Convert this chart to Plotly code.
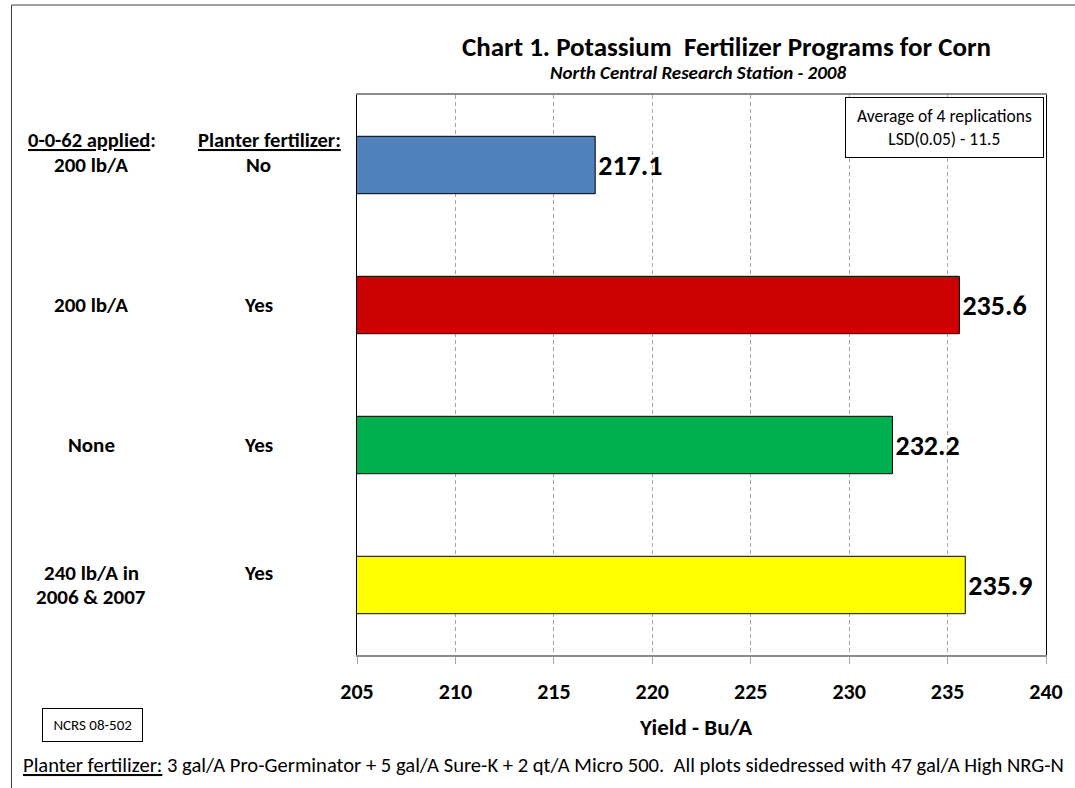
"""Chart 1: potassium fertilizer programs for corn (horizontal bars)."""
import plotly.graph_objects as go

# ---- data ---------------------------------------------------------------
applied = ["200 lb/A", "200 lb/A", "None", "240 lb/A in<br>2006 & 2007"]
planter = ["No", "Yes", "Yes", "Yes"]
yields = [217.1, 235.6, 232.2, 235.9]
bar_colors = ["#4F81BD", "#CC0000", "#00B050", "#FFFF00"]
x_ticks = [205, 210, 215, 220, 225, 230, 235, 240]

FONT = "Carlito, Calibri, Lato, sans-serif"

# plot area in pixels (matches the reference)
W, H = 1075, 788
L, R, T, B = 357, 20, 95, 133
PW, PH = W - L - R, H - T - B


def px(x):
    return (x - L) / PW


def py(y):
    return (H - B - y) / PH


def label(lx, ly, text, size, **kw):
    d = dict(x=px(lx), y=py(ly) if ly is not None else None,
             xref="paper", yref="paper",
             text=text, showarrow=False, xanchor="center", yanchor="middle",
             font=dict(family=FONT, size=size, color="black"))
    d.update(kw)
    return d


rows = list(range(len(yields)))

fig = go.Figure()

fig.add_trace(go.Bar(
    y=rows,
    x=yields,
    orientation="h",
    width=0.41,
    marker=dict(color=bar_colors, line=dict(color="black", width=1)),
    text=[f"{v:.1f}" for v in yields],
    textposition="outside",
    textfont=dict(family=FONT, size=28, color="black", weight="bold"),
    cliponaxis=False,
    hoverinfo="x",
))

ann = []
# column headers
ann.append(label(89, 140, "<b><u>0-0-62 applied</u>:</b>", 20.5))
ann.append(label(268, 140, "<b><u>Planter fertilizer:</u></b>", 20.5))
for i, (a, p) in enumerate(zip(applied, planter)):
    lines = a.split("<br>")
    n = len(lines)
    for j, ln in enumerate(lines):
        ann.append(label(88, None, f"<b>{ln}</b>", 21, y=i, yref="y",
                         yshift=12 * (n - 1) - 24 * j))
    ann.append(label(257, None, f"<b>{p}</b>", 21, y=i, yref="y",
                     yshift=12 * (n - 1)))

# titles
ann.append(label(731, 46, "<b>Chart 1. Potassium&nbsp; Fertilizer Programs for Corn</b>", 27))
ann.append(label(702, 73, "<b><i>North Central Research Station - 2008</i></b>", 19))
# axis title
ann.append(label(700, 727, "<b>Yield - Bu/A</b>", 23))
# replications box
ann.append(label(1053, 97, "&nbsp;Average of 4 replications&nbsp;<br>LSD(0.05) - 11.5", 17.5,
                 xanchor="right", yanchor="top", align="center",
                 bordercolor="black", borderwidth=1, borderpad=7, bgcolor="white"))
# report id box
ann.append(label(89, 725, "&nbsp;NCRS 08-502&nbsp;", 15,
                 bordercolor="black", borderwidth=1, borderpad=7))
# footnote
ann.append(label(17, 765,
                 "<u>Planter fertilizer:</u> 3 gal/A Pro-Germinator + 5 gal/A Sure-K"
                 " + 2 qt/A Micro 500.&nbsp; All plots sidedressed with 47 gal/A High NRG-N",
                 20.6, xanchor="left"))

shapes = [
    # outer chart border (runs off the right and bottom edges)
    dict(type="rect", xref="paper", yref="paper",
         x0=px(7), x1=px(1090), y0=py(800), y1=py(5),
         line=dict(color="#404040", width=1), layer="below"),
]

fig.update_layout(
    width=W, height=H,
    margin=dict(l=L, r=R, t=T, b=B),
    paper_bgcolor="white",
    plot_bgcolor="white",
    showlegend=False,
    font=dict(family=FONT, color="black"),
    annotations=ann,
    shapes=shapes,
    xaxis=dict(
        range=[205, 240],
        tickvals=x_ticks,
        ticks="outside", ticklen=7, tickcolor="#A6A6A6",
        ticklabelstandoff=9,
        tickfont=dict(family=FONT, size=22, color="black", weight="bold"),
        showgrid=True, gridcolor="#A6A6A6", griddash="4px,3px", gridwidth=1,
        showline=True, linecolor="#8C8C8C", linewidth=2, mirror=True,
        zeroline=False, fixedrange=True,
    ),
    yaxis=dict(
        range=[3.5, -0.5],
        showticklabels=False,
        showgrid=False, zeroline=False,
        showline=True, linecolor="black", linewidth=1, mirror=True,
        fixedrange=True,
    ),
)

fig.write_html("out.html", config={"displayModeBar": False},
               post_script="document.body.style.margin='0';")
